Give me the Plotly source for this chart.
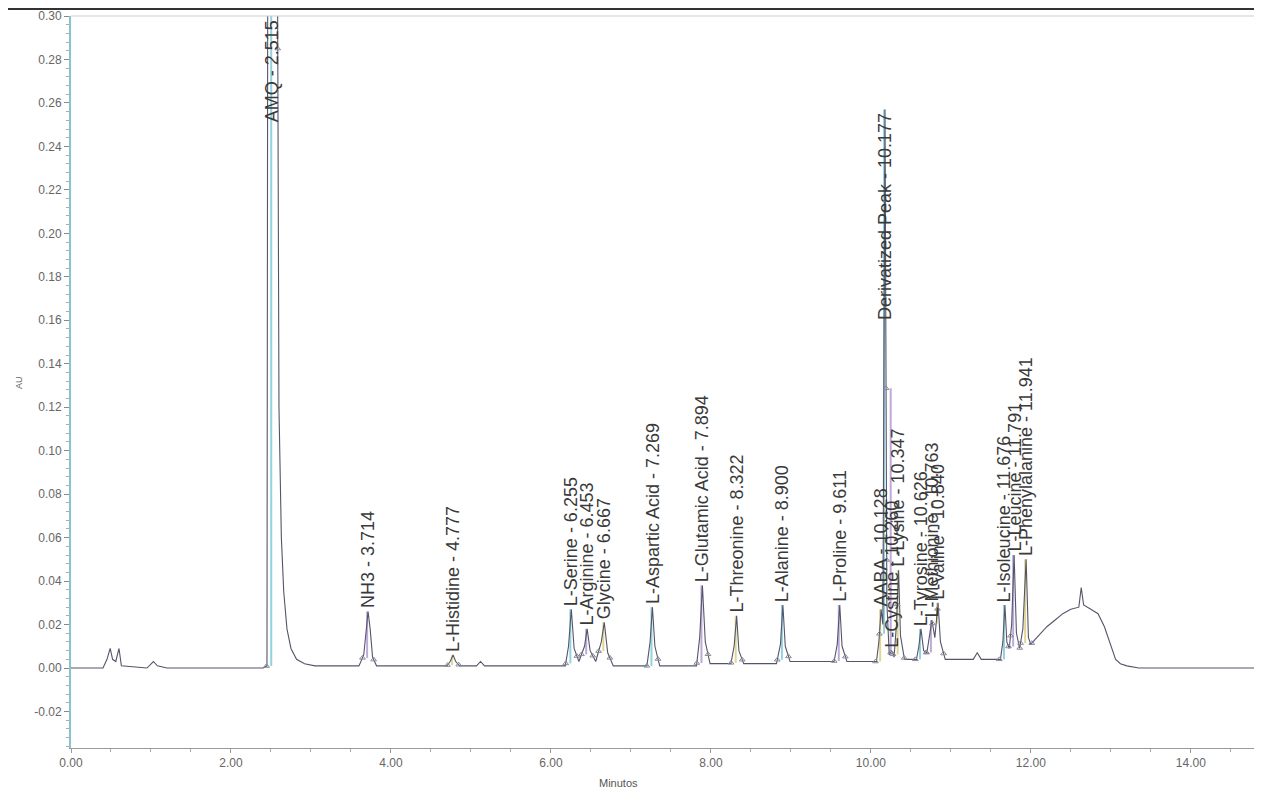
import numpy as np
import plotly.graph_objects as go

# ---- chromatogram trace (minutes, AU) ----
trace_time = [0.00, 0.40, 0.45, 0.49, 0.52, 0.56, 0.60, 0.63, 0.95, 1.00, 1.03, 1.08, 1.20,
              2.40, 2.45, 2.46, 2.52, 2.58, 2.60, 2.63, 2.66, 2.70, 2.75, 2.82, 2.92, 3.05,
              3.60, 3.66, 3.69, 3.714, 3.74, 3.77, 3.82,
              4.70, 4.74, 4.777, 4.81, 4.86, 5.07, 5.12, 5.17,
              6.18, 6.22, 6.255, 6.29, 6.35, 6.42, 6.453, 6.49, 6.56, 6.63, 6.667, 6.71, 6.78,
              7.20, 7.24, 7.269, 7.30, 7.36, 7.82, 7.86, 7.894, 7.93, 7.99,
              8.25, 8.29, 8.322, 8.35, 8.41, 8.82, 8.87, 8.900, 8.93, 8.99,
              9.54, 9.58, 9.611, 9.64, 9.70,
              10.07, 10.10, 10.128, 10.15, 10.177, 10.20, 10.23, 10.260, 10.29, 10.32, 10.347, 10.37, 10.42,
              10.57, 10.60, 10.626, 10.66, 10.70, 10.73, 10.763, 10.80, 10.840, 10.87, 10.93,
              11.28, 11.33, 11.38, 11.62, 11.65, 11.676, 11.70, 11.73, 11.76, 11.791, 11.82, 11.86,
              11.90, 11.941, 11.97, 12.00, 12.10, 12.20, 12.30, 12.40, 12.50, 12.60, 12.63, 12.66,
              12.75, 12.84, 12.92, 13.00, 13.06, 13.12, 13.20, 13.35, 14.89]
trace_au = [0.000, 0.000, 0.004, 0.009, 0.004, 0.003, 0.009, 0.001, 0.000, 0.002, 0.003, 0.001, 0.000,
            0.000, 0.001, 0.340, 0.345, 0.340, 0.120, 0.060, 0.035, 0.018, 0.009, 0.004, 0.002, 0.001,
            0.001, 0.006, 0.018, 0.026, 0.018, 0.005, 0.001,
            0.001, 0.003, 0.006, 0.003, 0.001, 0.001, 0.003, 0.001,
            0.001, 0.010, 0.027, 0.009, 0.003, 0.010, 0.018, 0.008, 0.003, 0.012, 0.021, 0.007, 0.001,
            0.001, 0.012, 0.028, 0.010, 0.001, 0.001, 0.014, 0.038, 0.012, 0.002,
            0.002, 0.010, 0.024, 0.008, 0.002, 0.002, 0.011, 0.029, 0.010, 0.003,
            0.003, 0.011, 0.029, 0.010, 0.003,
            0.003, 0.012, 0.027, 0.020, 0.257, 0.030, 0.006, 0.008, 0.005, 0.020, 0.045, 0.015, 0.004,
            0.004, 0.010, 0.018, 0.008, 0.007, 0.014, 0.022, 0.014, 0.030, 0.012, 0.004,
            0.004, 0.007, 0.004, 0.004, 0.012, 0.029, 0.012, 0.009, 0.020, 0.052, 0.016, 0.009,
            0.018, 0.050, 0.014, 0.011, 0.015, 0.019, 0.022, 0.025, 0.027, 0.028, 0.037, 0.029,
            0.027, 0.025, 0.019, 0.010, 0.004, 0.002, 0.001, 0.000, 0.000]

# ---- labelled peaks ----
peak_names = ["AMQ", "NH3", "L-Histidine", "L-Serine", "L-Arginine", "Glycine",
              "L-Aspartic Acid", "L-Glutamic Acid", "L-Threonine", "L-Alanine", "L-Proline",
              "AABA", "Derivatized Peak", "L-Cystine", "L-Lysine", "L-Tyrosine",
              "L-Methionine", "L-Valine", "L-Isoleucine", "L-Leucine", "L-Phenylalanine"]
peak_rt = [2.515, 3.714, 4.777, 6.255, 6.453, 6.667, 7.269, 7.894, 8.322, 8.900, 9.611,
           10.128, 10.177, 10.260, 10.347, 10.626, 10.763, 10.840, 11.676, 11.791, 11.941]
peak_height = [0.345, 0.026, 0.006, 0.027, 0.018, 0.021, 0.028, 0.038, 0.024, 0.029, 0.029,
               0.027, 0.257, 0.008, 0.045, 0.018, 0.022, 0.030, 0.029, 0.052, 0.050]

x_ticks = [0, 2, 4, 6, 8, 10, 12, 14]
y_ticks = [-0.02, 0.00, 0.02, 0.04, 0.06, 0.08, 0.10, 0.12, 0.14, 0.16, 0.18,
           0.20, 0.22, 0.24, 0.26, 0.28, 0.30]

X_RANGE = [0, 14.89]
Y_RANGE = [-0.0368, 0.30]

fig = go.Figure()

# tinted drop lines under each labelled peak (scan colour fringes)
tints = ["rgba(110,195,215,0.75)", "rgba(170,140,205,0.75)", "rgba(215,200,110,0.75)"]
for i, (rt, h) in enumerate(zip(peak_rt, peak_height)):
    base = float(np.interp(rt - 0.07, trace_time, trace_au))
    fig.add_trace(go.Scatter(x=[rt - 0.012, rt - 0.012], y=[base, min(h, Y_RANGE[1])],
                             mode="lines", line=dict(color=tints[i % 3], width=2),
                             hoverinfo="skip", showlegend=False))

fig.add_trace(go.Scatter(x=trace_time, y=trace_au, mode="lines",
                         line=dict(color="#55556a", width=1.1), hoverinfo="skip",
                         showlegend=False))

# integration markers at each labelled peak's start and end
mk_t = []
for rt in peak_rt:
    mk_t += [rt - 0.07, rt + 0.07]
mk_y = list(np.interp(mk_t, trace_time, trace_au))
fig.add_trace(go.Scatter(x=mk_t, y=mk_y, mode="markers",
                         marker=dict(symbol="triangle-up-open", size=5,
                                     color="#8a8a9a", line=dict(width=1)),
                         hoverinfo="skip", showlegend=False))

label_font = dict(family="Liberation Sans, Arial, sans-serif", size=18, color="#3a3a3a")
for name, rt, h in zip(peak_names, peak_rt, peak_height):
    text = f"{name} - {rt:.3f}"
    if h > 0.15:
        fig.add_annotation(x=rt, y=min(h, Y_RANGE[1]), text=text, textangle=-90,
                           showarrow=False, xanchor="center", yanchor="top",
                           font=label_font, yshift=-2)
    else:
        fig.add_annotation(x=rt, y=h, text=text, textangle=-90,
                           showarrow=False, xanchor="center", yanchor="bottom",
                           font=label_font, yshift=1)

# axis titles
fig.add_annotation(xref="paper", yref="paper", x=(618 - 71) / 1191, y=(748 - 783) / 732,
                   text="Minutos", showarrow=False, xanchor="center", yanchor="middle",
                   font=dict(family="Liberation Sans, Arial", size=11, color="#555"))
fig.add_annotation(xref="paper", yref="paper", x=(12 - 71) / 1191, y=(748 - 383) / 732,
                   text="AU", textangle=-90, showarrow=False,
                   font=dict(family="Liberation Sans, Arial", size=9, color="#666"))

# frame lines
fig.add_shape(type="line", xref="paper", yref="paper", x0=-0.06, x1=1.0,
              y0=(748 - 9) / 732, y1=(748 - 9) / 732, line=dict(color="#333", width=2))
fig.add_shape(type="line", xref="paper", yref="paper", x0=0, x1=1.0, y0=1.0, y1=1.0,
              line=dict(color="#cfcfcf", width=1))

# page body has an 8px margin, so the figure is offset by 8px
fig.update_layout(
    width=1254, height=784, autosize=False,
    margin=dict(l=63, r=0, t=8, b=44),
    paper_bgcolor="white", plot_bgcolor="white",
    showlegend=False,
    font=dict(family="Liberation Sans, Arial, sans-serif", color="#666"),
    xaxis=dict(range=X_RANGE, tickvals=x_ticks, ticktext=[f"{v:.2f}" for v in x_ticks],
               showgrid=False, zeroline=False, showline=True, linecolor="#9a9a9a", linewidth=1,
               ticks="outside", ticklen=4, tickcolor="#9a9a9a",
               minor=dict(dtick=0.5, ticks="outside", ticklen=3, tickcolor="#aaa"),
               tickfont=dict(size=12, color="#666")),
    yaxis=dict(range=Y_RANGE, tickvals=y_ticks, ticktext=[f"{v:.2f}" for v in y_ticks],
               showgrid=False, zeroline=False, showline=True, linecolor="#86c4d0", linewidth=2,
               ticks="outside", ticklen=5, tickcolor="#888",
               minor=dict(tickvals=list(np.arange(-0.036, 0.3001, 0.004)), ticks="outside",
                          ticklen=3, tickcolor="#aaa"),
               tickfont=dict(size=12, color="#666")),
)

fig.write_html("out.html")
